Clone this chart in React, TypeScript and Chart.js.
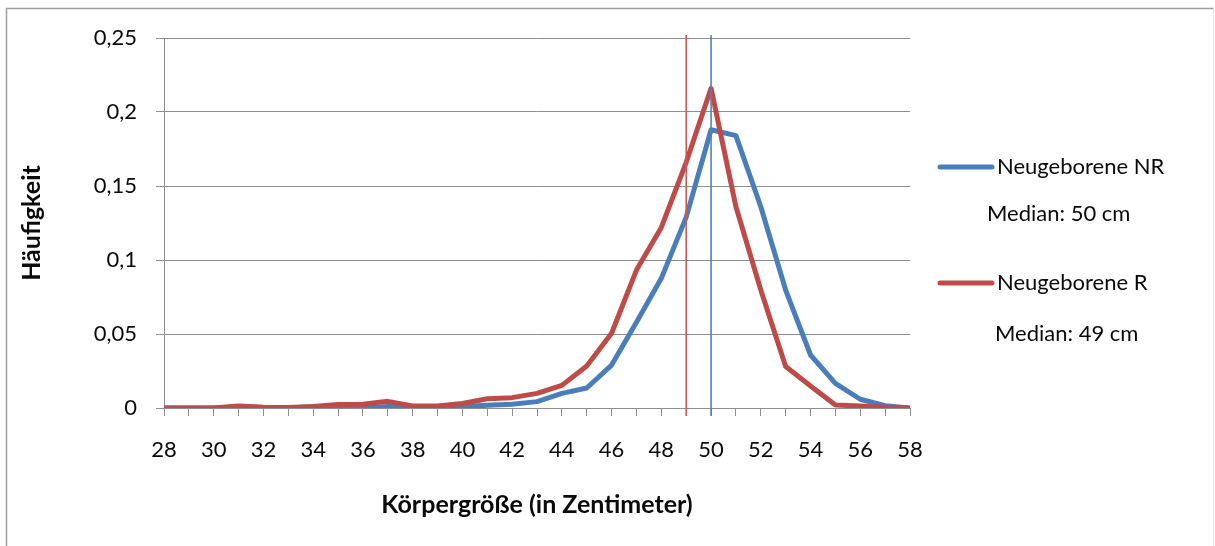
import React, { useEffect, useRef } from "react";
import { Chart, registerables } from "chart.js";

Chart.register(...registerables);

const heights = [28, 29, 30, 31, 32, 33, 34, 35, 36, 37, 38, 39, 40, 41, 42, 43, 44, 45, 46, 47, 48, 49, 50, 51, 52, 53, 54, 55, 56, 57, 58];
const seriesNR = [0, 0, 0, 0.0008, 0.0004, 0.0002, 0.0006, 0.0012, 0, 0.001, 0.001, 0.001, 0.001, 0.0018, 0.0025, 0.0043, 0.0099, 0.0135, 0.029, 0.058, 0.0876, 0.129, 0.188, 0.184, 0.136, 0.0797, 0.0358, 0.0167, 0.0059, 0.0015, 0];
const seriesR = [0, 0, 0, 0.0014, 0.0005, 0.0003, 0.001, 0.0023, 0.0025, 0.0045, 0.0014, 0.0014, 0.003, 0.0063, 0.007, 0.0099, 0.0153, 0.0284, 0.0505, 0.0932, 0.122, 0.166, 0.216, 0.136, 0.0797, 0.028, 0.0149, 0.002, 0.0014, 0.0005, 0];
const medianNR = 50;
const medianR = 49;
const legendLabels = ["Neugeborene NR", "Median: 50 cm", "Neugeborene R", "Median: 49 cm"];
const yTicks = [0, 0.05, 0.1, 0.15, 0.2, 0.25];
const xTitle = "Körpergröße (in Zentimeter)";
const yTitle = "Häufigkeit";

const BLUE = "#4A7EBB";
const RED = "#BE4B48";
const GRID = "#8e8e8e";
const FONT = "Lato";
const TEXT = "#0a0a0a";

export default function App() {
  const ref = useRef<HTMLCanvasElement>(null);
  useEffect(() => {
    document.body.style.margin = "0";
    const canvas = ref.current!;
    const framePlugin = {
      id: "frame",
      beforeDraw(chart: any) {
        const ctx = chart.ctx;
        ctx.save();
        ctx.strokeStyle = "#a0a0a0";
        ctx.lineWidth = 1.5;
        ctx.beginPath();
        ctx.moveTo(6.5, 546);
        ctx.lineTo(6.5, 8.5);
        ctx.lineTo(1213.5, 8.5);
        ctx.stroke();
        ctx.strokeStyle = "#e4e4e4";
        ctx.lineWidth = 1;
        ctx.beginPath();
        ctx.moveTo(1213.5, 8.5);
        ctx.lineTo(1213.5, 546);
        ctx.stroke();
        ctx.restore();
      },
      afterDraw(chart: any) {
        const ctx = chart.ctx;
        ctx.save();
        ctx.font = `22px ${FONT}`;
        ctx.textBaseline = "middle";
        ctx.fillStyle = TEXT;
        ctx.lineCap = "round";
        ctx.lineWidth = 5;
        ctx.strokeStyle = BLUE;
        ctx.beginPath();
        ctx.moveTo(940, 167);
        ctx.lineTo(992, 167);
        ctx.stroke();
        ctx.fillText(legendLabels[0], 997, 167);
        ctx.fillText(legendLabels[1], 987, 214);
        ctx.strokeStyle = RED;
        ctx.beginPath();
        ctx.moveTo(940, 283);
        ctx.lineTo(992, 283);
        ctx.stroke();
        ctx.fillText(legendLabels[2], 997, 283);
        ctx.fillText(legendLabels[3], 995, 334);
        ctx.restore();
      },
    };

    const chart = new Chart(canvas, {
      type: "line",
      data: {
        labels: heights,
        datasets: [
          {
            label: "Median NR",
            data: [
              { x: medianNR, y: -0.0054 },
              { x: medianNR, y: 0.252 },
            ],
            borderColor: "#4F81BD",
            borderWidth: 1.6,
            pointRadius: 0,
            clip: false,
          } as any,
          {
            label: "Median R",
            data: [
              { x: medianR, y: -0.0054 },
              { x: medianR, y: 0.252 },
            ],
            borderColor: "#C85A57",
            borderWidth: 1.6,
            pointRadius: 0,
            clip: false,
          },
          {
            label: legendLabels[2],
            data: seriesR,
            borderColor: RED,
            borderWidth: 5,
            pointRadius: 0,
            borderJoinStyle: "round",
            borderCapStyle: "round",
            tension: 0,
          },
          {
            label: legendLabels[0],
            data: seriesNR,
            borderColor: BLUE,
            borderWidth: 5,
            pointRadius: 0,
            borderJoinStyle: "round",
            borderCapStyle: "round",
            tension: 0,
          },
        ],
      },
      options: {
        animation: false,
        responsive: false,
        devicePixelRatio: 1,
        events: [],
        layout: { padding: { top: 38, right: 305, bottom: 0, left: 0 } },
        plugins: { legend: { display: false }, tooltip: { enabled: false } },
        scales: {
          x: {
            type: "linear",
            min: heights[0],
            max: heights[heights.length - 1],
            afterFit(scale: any) {
              scale.height = 138;
            },
            grid: { drawOnChartArea: false, tickLength: 8, color: GRID, lineWidth: 1 },
            border: { display: true, color: GRID, width: 1 },
            ticks: {
              stepSize: 1,
              autoSkip: false,
              maxRotation: 0,
              padding: 21,
              color: TEXT,
              font: { family: FONT, size: 22 },
              callback: (v: any) => (Number(v) % 2 === 0 ? String(v) : ""),
            },
            title: {
              display: true,
              text: xTitle,
              color: TEXT,
              font: { family: FONT, size: 25, weight: "bold" },
              padding: { top: 0, bottom: 26 },
            },
          },
          y: {
            min: 0,
            max: 0.25,
            afterFit(scale: any) {
              scale.width = 164;
            },
            afterBuildTicks(scale: any) {
              scale.ticks = yTicks.map((v) => ({ value: v }));
            },
            grid: { tickLength: 8, color: GRID, lineWidth: 1 },
            border: { display: true, color: GRID, width: 1 },
            ticks: {
              padding: 19,
              color: TEXT,
              font: { family: FONT, size: 22 },
              callback: (v: any) => String(Math.round(Number(v) * 100) / 100).replace(".", ","),
            },
            title: {
              display: true,
              text: yTitle,
              color: TEXT,
              font: { family: FONT, size: 25, weight: "bold" },
              padding: { top: 17, bottom: 0 },
            },
          },
        },
      },
      plugins: [framePlugin],
    });
    return () => chart.destroy();
  }, []);
  return (
    <div style={{ width: 1215, height: 546, position: "relative", background: "#fff" }}>
      <canvas ref={ref} width={1215} height={546} style={{ display: "block" }} />
    </div>
  );
}
